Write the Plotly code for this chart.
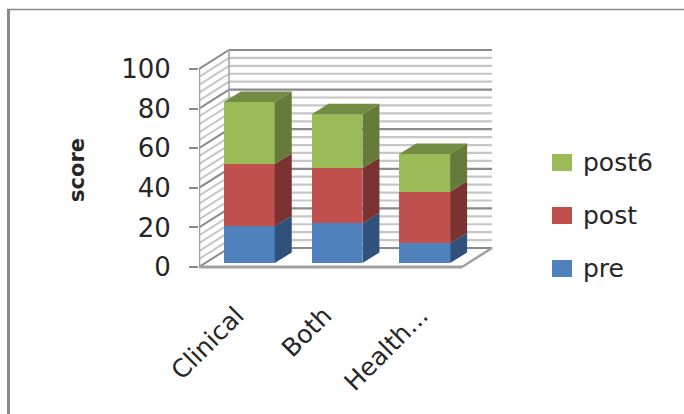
import plotly.graph_objects as go

# Survey scores per group, stacked by time point
categories = ["Clinical", "Both", "Health..."]
pre = [18.5, 20.0, 10.0]
post = [31.5, 27.8, 26.0]
post6 = [31.3, 27.3, 19.0]
series_names = ["pre", "post", "post6"]
score_ticks = [0, 20, 40, 60, 80, 100]
grid_step = 4

front_colors = ["#4f81bd", "#c0504d", "#9bbb59"]
side_colors = ["#30517c", "#7b3331", "#667b3a"]
top_color = "#738c44"
major_grid = "#8a8a8a"
minor_grid = "#c6c6c6"
wall_edge = "#a0a0a0"
text_color = "#262626"

W, H = 684, 414
PX_X, PX_Y = 87.67, 1.98           # pixels per category, pixels per score point
AXIS_LEFT, ZERO_ROW = 199, 267     # page position of the x = 0 / score = 0 corner
ROW_TOP, ROW_BOTTOM = 45, 295      # vertical extent of the plotting domain

# Oblique projection: depth of the chart box and of the bars, in axis units
box_dx, box_dy = 30 / PX_X, 19 / PX_Y
bar_dx, bar_dy = 17 / PX_X, 10.5 / PX_Y
inset_dx, inset_dy = 6.5 / PX_X, 4 / PX_Y
bar_width = 0.58
n_cat = len(categories)


def line_shape(x0, y0, x1, y1, color, width):
    return dict(type="line", xref="x", yref="y", x0=x0, y0=y0, x1=x1, y1=y1,
                layer="below", line=dict(color=color, width=width))


shapes = []

# Hatched side wall and ruled back wall
for v in range(0, 101, grid_step):
    major = v in score_ticks
    color = major_grid if major else minor_grid
    shapes.append(line_shape(0, v, box_dx, v + box_dy, color, 2))
    shapes.append(line_shape(box_dx, v + box_dy, n_cat + box_dx, v + box_dy, color, 2.2))

# Wall and floor outlines
shapes.append(line_shape(0, 0, 0, 100, wall_edge, 2.5))
shapes.append(line_shape(box_dx, box_dy, box_dx, 100 + box_dy, wall_edge, 1.5))
shapes.append(line_shape(0, 0, n_cat, 0, wall_edge, 3))
shapes.append(line_shape(n_cat, 0, n_cat + box_dx, box_dy, wall_edge, 2.5))

# Outer frame lines of the chart object
frame = "#8a8a8a"
shapes.append(dict(type="line", xref="paper", yref="paper",
                   x0=8.5 / W, x1=8.5 / W, y0=0, y1=1 - 9 / H,
                   line=dict(color=frame, width=3)))
shapes.append(dict(type="line", xref="paper", yref="paper",
                   x0=7 / W, x1=1, y0=1 - 9.5 / H, y1=1 - 9.5 / H,
                   line=dict(color=frame, width=1.5)))

fig = go.Figure()

values = [pre, post, post6]
bar_x = [i + 0.5 + inset_dx for i in range(n_cat)]
cumulative = [inset_dy] * n_cat

for s, name in enumerate(series_names):
    fig.add_bar(x=bar_x, y=values[s], base=list(cumulative), width=bar_width,
                name=name, marker=dict(color=front_colors[s], line=dict(width=0)),
                showlegend=False)
    tops = [c + v for c, v in zip(cumulative, values[s])]

    # Right-hand face of each stacked segment
    for i in range(n_cat):
        right = bar_x[i] + bar_width / 2
        fig.add_scatter(
            x=[right, right + bar_dx, right + bar_dx, right, right],
            y=[cumulative[i], cumulative[i] + bar_dy, tops[i] + bar_dy, tops[i], cumulative[i]],
            mode="lines", fill="toself", fillcolor=side_colors[s],
            line=dict(width=0), hoverinfo="skip", showlegend=False)
    cumulative = tops

# Top face of each column
for i in range(n_cat):
    left, right = bar_x[i] - bar_width / 2, bar_x[i] + bar_width / 2
    top = cumulative[i]
    fig.add_scatter(
        x=[left, right, right + bar_dx, left + bar_dx, left],
        y=[top, top, top + bar_dy, top + bar_dy, top],
        mode="lines", fill="toself", fillcolor=top_color,
        line=dict(width=0), hoverinfo="skip", showlegend=False)

# Key on the right, newest series first
annotations = []
for s, row in zip([2, 1, 0], [162.5, 215.5, 268.5]):
    shapes.append(dict(type="rect", xref="paper", yref="paper",
                       x0=552 / W, x1=572 / W,
                       y0=1 - (row + 8.5) / H, y1=1 - (row - 8.5) / H,
                       fillcolor=front_colors[s], line=dict(width=0)))
    annotations.append(dict(xref="paper", yref="paper", x=581 / W, y=1 - row / H,
                            xanchor="left", yanchor="middle", showarrow=False,
                            text=series_names[s],
                            font=dict(family="DejaVu Sans", size=25, color=text_color)))

fig.update_layout(
    width=W, height=H, margin=dict(l=0, r=0, t=0, b=0),
    paper_bgcolor="white", plot_bgcolor="rgba(0,0,0,0)",
    barmode="overlay", bargap=0, showlegend=False,
    shapes=shapes, annotations=annotations,
    font=dict(family="DejaVu Sans", size=24, color=text_color),
    xaxis=dict(
        domain=[AXIS_LEFT / W, 1], automargin=False,
        range=[0, (W - AXIS_LEFT) / PX_X],
        tickvals=[0.43, 1.43, 2.53], ticktext=categories,
        tickangle=-45, showgrid=False, zeroline=False, showline=False, ticks="",
        tickfont=dict(size=25, color=text_color), fixedrange=True,
    ),
    yaxis=dict(
        domain=[1 - ROW_BOTTOM / H, 1 - ROW_TOP / H], automargin=False,
        range=[(ZERO_ROW - ROW_BOTTOM) / PX_Y, (ZERO_ROW - ROW_TOP) / PX_Y],
        tickvals=score_ticks, showgrid=False, zeroline=False, showline=False,
        ticks="outside", ticklen=9, tickwidth=2, tickcolor="#8a8a8a",
        ticklabelstandoff=13,
        tickfont=dict(size=26, color=text_color), fixedrange=True,
        title=dict(text="<b>score</b>", standoff=30,
                   font=dict(family="DejaVu Sans", size=21, color=text_color)),
    ),
)

fig.write_html("out.html")
